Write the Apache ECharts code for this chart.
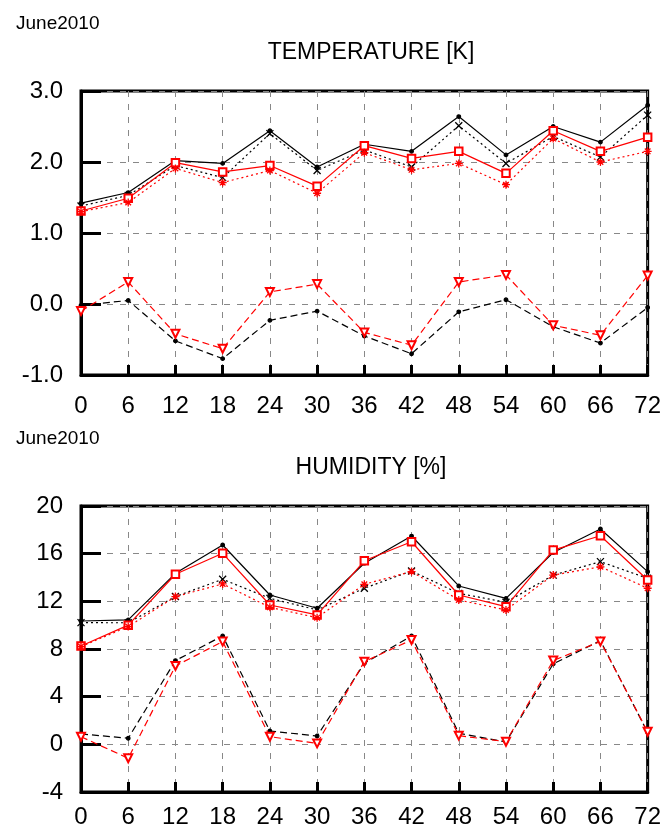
<!DOCTYPE html>
<html>
<head>
<meta charset="utf-8">
<script src="https://cdn.jsdelivr.net/npm/echarts@6/dist/echarts.min.js"></script>
<style>
html, body { margin: 0; padding: 0; background: #fff; }
#main { width: 664px; height: 830px; }
</style>
</head>
<body>
<div id="main"></div>
<script>
var hours = [0, 6, 12, 18, 24, 30, 36, 42, 48, 54, 60, 66, 72];

// temperature
var tBlackSolid  = [1.42, 1.57, 2.02, 1.98, 2.44, 1.93, 2.25, 2.15, 2.64, 2.10, 2.50, 2.28, 2.80];
var tBlackDot    = [1.38, 1.53, 1.95, 1.78, 2.40, 1.88, 2.17, 1.93, 2.51, 1.98, 2.36, 2.07, 2.66];
var tRedSolid    = [1.31, 1.49, 1.99, 1.86, 1.95, 1.66, 2.23, 2.05, 2.15, 1.84, 2.44, 2.15, 2.35];
var tRedDot      = [1.30, 1.43, 1.91, 1.71, 1.88, 1.56, 2.13, 1.89, 1.98, 1.68, 2.33, 2.00, 2.15];
var tRedDash     = [-0.10, 0.31, -0.42, -0.63, 0.17, 0.28, -0.40, -0.58, 0.31, 0.41, -0.30, -0.44, 0.40];
var tBlackDash   = [-0.02, 0.05, -0.52, -0.77, -0.23, -0.10, -0.45, -0.70, -0.11, 0.06, -0.32, -0.55, -0.05];

// humidity
var hBlackSolid  = [10.35, 10.44, 14.35, 16.73, 12.53, 11.42, 15.2, 17.48, 13.29, 12.25, 16.1, 18.07, 14.49];
var hBlackDot    = [10.21, 10.2, 12.4, 13.85, 12.25, 11.28, 13.1, 14.55, 12.67, 11.92, 14.2, 15.33, 13.93];
var hRedSolid    = [8.25, 10.0, 14.27, 16.03, 11.69, 10.86, 15.4, 17.0, 12.53, 11.55, 16.3, 17.5, 13.79];
var hRedDot      = [8.2, 9.88, 12.4, 13.46, 11.5, 10.63, 13.43, 14.5, 12.11, 11.28, 14.2, 14.9, 13.1];
var hRedDash     = [0.64, -1.17, 6.58, 8.62, 0.64, 0.08, 6.94, 8.76, 0.73, 0.22, 7.03, 8.63, 1.06];
var hBlackDash   = [0.87, 0.51, 7.03, 9.1, 1.12, 0.70, 6.8, 9.1, 0.93, 0.2, 6.75, 8.7, 1.0];

var FONT = 'Liberation Sans';
var symX = 'path://M0,0L10,10M0,10L10,0';
var symStar = 'path://M5,0L5,10M0,5L10,5M1.5,1.5L8.5,8.5M1.5,8.5L8.5,1.5';

function pairs(ys) {
    var res = [];
    for (var i = 0; i < hours.length; i++) {
        res.push([hours[i], ys[i]]);
    }
    return res;
}

function line(idx, ys, color, type, symbol, size, z) {
    var s = {
        type: 'line',
        xAxisIndex: idx,
        yAxisIndex: idx,
        data: pairs(ys),
        clip: false,
        z: z,
        lineStyle: { color: color, width: 1.2, type: type },
        symbol: symbol,
        symbolSize: size,
        itemStyle: { color: color, borderColor: color, borderWidth: 1.3 },
        emphasis: { disabled: true }
    };
    if (symbol == 'emptyTriangle') {
        s.symbolRotate = 180;
    }
    return s;
}

function xAxis(idx, margin) {
    return {
        type: 'value', gridIndex: idx, min: 0, max: 72, interval: 6,
        axisLine: { onZero: false, lineStyle: { color: '#000', width: 3 } },
        axisTick: { inside: true, length: 10, lineStyle: { color: '#000', width: 3 } },
        axisLabel: { color: '#000', fontSize: 24, fontFamily: FONT, margin: margin },
        splitLine: { show: true, lineStyle: { color: '#888', type: [6, 7], width: 1 } }
    };
}

function yAxis(idx, min, max, step, digits) {
    return {
        type: 'value', gridIndex: idx, min: min, max: max, interval: step,
        axisLine: { show: true, onZero: false, lineStyle: { color: '#000', width: 3 } },
        axisTick: { show: true, inside: true, length: 20, lineStyle: { color: '#000', width: 3 } },
        axisLabel: {
            color: '#000', fontSize: 24, fontFamily: FONT, margin: 18,
            formatter: function(v) { return v.toFixed(digits); }
        },
        splitLine: { show: true, lineStyle: { color: '#888', type: [6, 7], width: 1 } }
    };
}

var myChart = echarts.init(document.getElementById('main'));

var option = {
    animation: false,
    backgroundColor: '#fff',
    title: [
        { text: 'June2010', left: 11, top: 9, textStyle: { fontSize: 19, fontWeight: 'normal', fontFamily: FONT, color: '#000' } },
        { text: 'TEMPERATURE [K]', left: 366, textAlign: 'center', top: 36, textStyle: { fontSize: 23, fontWeight: 'normal', fontFamily: FONT, color: '#000' } },
        { text: 'June2010', left: 11, top: 424, textStyle: { fontSize: 19, fontWeight: 'normal', fontFamily: FONT, color: '#000' } },
        { text: 'HUMIDITY [%]', left: 366, textAlign: 'center', top: 451, textStyle: { fontSize: 23, fontWeight: 'normal', fontFamily: FONT, color: '#000' } }
    ],
    grid: [
        { left: 81, top: 91, width: 568, height: 284, show: true, borderColor: '#000', borderWidth: 3, backgroundColor: 'transparent' },
        { left: 81, top: 506, width: 568, height: 286, show: true, borderColor: '#000', borderWidth: 3, backgroundColor: 'transparent' }
    ],
    xAxis: [xAxis(0, 19), xAxis(1, 13)],
    yAxis: [yAxis(0, -1, 3, 1, 1), yAxis(1, -4, 20, 4, 0)],
    series: [
        line(0, tBlackSolid, '#000', 'solid', 'circle', 3.5, 3),
        line(0, tBlackDot, '#000', [2, 3], symX, 7, 3),
        line(0, tBlackDash, '#000', [7, 4], 'circle', 3.5, 3),
        line(0, tRedSolid, '#ff0000', 'solid', 'emptyRect', 7.5, 4),
        line(0, tRedDot, '#ff0000', [2, 3], symStar, 8, 4),
        line(0, tRedDash, '#ff0000', [7, 4], 'emptyTriangle', 8, 4),
        line(1, hBlackSolid, '#000', 'solid', 'circle', 3.5, 3),
        line(1, hBlackDot, '#000', [2, 3], symX, 7, 3),
        line(1, hBlackDash, '#000', [7, 4], 'circle', 3.5, 3),
        line(1, hRedSolid, '#ff0000', 'solid', 'emptyRect', 7.5, 4),
        line(1, hRedDot, '#ff0000', [2, 3], symStar, 8, 4),
        line(1, hRedDash, '#ff0000', [7, 4], 'emptyTriangle', 8, 4)
    ]
};

myChart.setOption(option);
</script>
</body>
</html>
